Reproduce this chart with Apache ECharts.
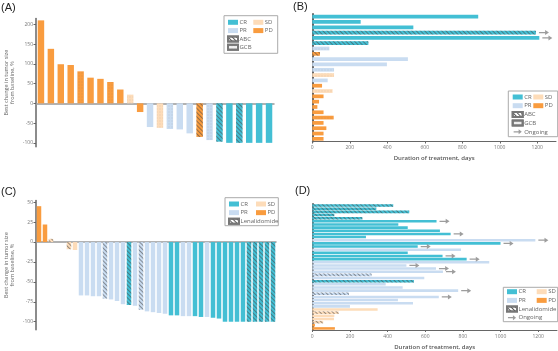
<!DOCTYPE html>
<html>
<head>
<meta charset="utf-8">
<script src="https://cdn.jsdelivr.net/npm/echarts@6.0.0/dist/echarts.min.js"></script>
<style>
html, body { margin: 0; padding: 0; background: #fff; }
#chart { width: 558px; height: 351px; }
</style>
</head>
<body>
<div id="chart"></div>
<script>
// (A) best change in tumor size, left to right
var aValues = [210, 138, 99, 97, 81, 65, 62, 54, 35, 22, -22, -60, -62, -65, -66, -76, -85, -93, -97, -100, -100, -100, -100, -100];
var aResponse = ['PD','PD','PD','PD','PD','PD','PD','PD','PD','SD','PD','PR','SD','PR','PR','PR','PD','PR','CR','CR','CR','CR','CR','CR'];
var aSubtype = ['','','','','GCB','','','GCB','','GCB','','','GCB','GCB','','','ABC','GCB','ABC','','ABC','','',''];

// (B) duration of treatment, top to bottom
var bDays = [885, 258, 539, 1193, 1211, 299, 91, 41, 510, 398, 116, 116, 82, 52, 108, 60, 36, 27, 60, 114, 60, 75, 60, 60];
var bResponse = ['CR','CR','CR','CR','CR','CR','PR','PD','PR','PR','PR','SD','PR','PD','SD','PD','PD','PD','PD','PD','PD','PD','PD','PD'];
var bSubtype = ['','','','ABC','','ABC','GCB','ABC','','','GCB','GCB','','','GCB','','','','','GCB','','','',''];
var bOngoing = [0,0,0,1,1,0,0,0,0,0,0,0,0,0,0,0,0,0,0,0,0,0,0,0];

// (C) best change in tumor size, left to right
var cValues = [45, 22, 4, 0, 0, -9, -10, -67, -67, -68, -68, -71, -72, -74, -78, -79, -80, -85, -87, -88,
               -89, -90, -92, -92, -93, -93, -93, -94, -94, -95, -96, -100, -100, -100, -100, -100, -100, -100, -100, -100];
var cResponse = ['PD','PD','SD','SD','SD','SD','SD','PR','PR','PR','PR','PR','PR','PR','PR','CR','PR','PR','PR','PR',
                 'PR','PR','CR','CR','PR','PR','CR','CR','PR','CR','CR','CR','CR','CR','CR','CR','CR','CR','CR','CR'];
var cLenalidomide = [0,0,1,0,0,1,0,0,0,0,0,1,0,0,0,1,0,1,0,0,
                     0,0,0,0,0,0,0,0,0,0,0,0,0,0,0,1,1,1,1,1];

// (D) duration of treatment, top to bottom
var dDays = [430, 340, 515, 117, 266, 660, 457, 507, 678, 735, 285, 1185, 1000, 560, 790, 507, 692, 820, 940, 500,
             657, 694, 315, 595, 540, 390, 480, 775, 195, 672, 455, 535, 200, 347, 140, 117, 115, 58, 14, 120];
var dResponse = ['CR','CR','CR','CR','CR','CR','CR','CR','CR','CR','CR','PR','CR','CR','PR','CR','CR','CR','PR','PR',
                 'PR','PR','PR','PR','CR','PR','PR','PR','PR','PR','PR','PR','PR','SD','SD','SD','SD','SD','PD','PD'];
var dLenalidomide = [1,1,1,1,1,0,0,0,0,0,0,0,0,0,0,0,0,0,0,0,
                     0,0,1,0,1,0,0,0,1,0,0,0,0,0,1,0,0,1,0,0];
var dOngoing = [0,0,0,0,0,1,0,0,0,1,0,1,1,1,0,0,1,1,0,1,
                1,1,0,0,0,0,0,1,0,1,0,0,0,0,0,0,0,0,0,0];

var yTicksA = [-100, -50, 0, 50, 100, 150, 200];
var yTicksC = [-100, -75, -50, -25, 0, 25, 50];
var dayTicks = [0, 200, 400, 600, 800, 1000, 1200];

var colors = { CR: '#43bfd4', PR: '#c9dcf1', SD: '#fddcb9', PD: '#f99c3f' };
var hatch = { symbol: 'rect', symbolSize: 1, dashArrayX: [1, 0], dashArrayY: [1, 2], rotation: Math.PI / 4, color: 'rgba(70,70,70,0.55)' };
var keyHatch = { symbol: 'rect', symbolSize: 1, dashArrayX: [1, 0], dashArrayY: [1, 2], rotation: Math.PI / 4, color: 'rgba(60,60,60,0.85)' };
var dots = { symbol: 'circle', symbolSize: 0.7, dashArrayX: [2, 1], dashArrayY: [2, 1], color: 'rgba(90,90,90,0.13)' };
var decals = { ABC: hatch, GCB: dots, L: hatch };
var arrow = 'path://M0,4L8,4L8,1L13,5L8,9L8,6L0,6Z';
var font = 'Open Sans';

function responseBars(idx, values, response, marks, barWidth) {
  return ['CR', 'PR', 'SD', 'PD'].map(function (r) {
    return {
      type: 'bar', name: r, xAxisIndex: idx, yAxisIndex: idx, stack: 's' + idx, barWidth: barWidth,
      itemStyle: { color: colors[r] },
      data: values.map(function (v, i) {
        if (response[i] !== r) return '-';
        var d = { value: v };
        var m = marks[i] === 1 ? 'L' : marks[i];
        if (m && decals[m]) d.itemStyle = { decal: decals[m] };
        return d;
      })
    };
  });
}

function keyBar(idx, name, fill, decal, barWidth) {
  return {
    type: 'bar', name: name, xAxisIndex: idx, yAxisIndex: idx, stack: 's' + idx, barWidth: barWidth, data: [],
    itemStyle: { color: fill, borderColor: '#777', borderWidth: 0.6, decal: decal }
  };
}

function ongoing(idx, days, flags) {
  var pts = [];
  days.forEach(function (v, i) { if (flags[i]) pts.push([v, i]); });
  return {
    type: 'scatter', name: 'Ongoing', xAxisIndex: idx, yAxisIndex: idx, data: pts,
    symbol: arrow, symbolSize: [10, 5], symbolOffset: [8, 0], itemStyle: { color: '#858585' }, z: 3
  };
}

function ids(arr) { return arr.map(function (v, i) { return 'P' + (i + 1); }); }
function plain(v) { return String(v); }

var tickLabel = { fontSize: 5, color: '#777', fontFamily: font, formatter: plain };
var legendText = { fontSize: 6, color: '#666', fontFamily: font, lineHeight: 7, padding: [0, 0, 0, -3.5] };

function legend(left, top, gap, names) {
  return {
    left: left, top: top, orient: 'vertical', padding: 0, itemGap: gap, itemWidth: 10, itemHeight: 5,
    textStyle: legendText, selectedMode: false,
    data: names.map(function (n) { return { name: n, icon: n === 'Ongoing' ? arrow : 'rect' }; })
  };
}

function changeAxis(idx, min, max, ticks) {
  return {
    gridIndex: idx, type: 'value', min: min, max: max,
    axisLine: { show: true, lineStyle: { color: '#666', width: 1.5 } },
    axisTick: { show: true, length: 2.5, customValues: ticks, lineStyle: { color: '#666' } },
    axisLabel: Object.assign({ customValues: ticks, margin: 3 }, tickLabel),
    splitLine: { show: false },
    name: 'Best change in tumor size\nfrom baseline, %', nameLocation: 'middle', nameGap: 20,
    nameTextStyle: { fontSize: 5.5, color: '#666', fontFamily: font, lineHeight: 6.5 }
  };
}

function dayAxis(idx) {
  return {
    gridIndex: idx, type: 'value', min: 0, max: 1300,
    axisLine: { show: true, lineStyle: { color: '#666', width: 1 } },
    axisTick: { show: true, length: 2, customValues: dayTicks, lineStyle: { color: '#666' } },
    axisLabel: Object.assign({ customValues: dayTicks, margin: 4 }, tickLabel),
    splitLine: { show: false },
    name: 'Duration of treatment, days', nameLocation: 'middle', nameGap: 14,
    nameTextStyle: { fontSize: 6, color: '#555', fontFamily: font, fontWeight: 600 }
  };
}

function zeroCategory(idx, arr) {
  return {
    gridIndex: idx, type: 'category', data: ids(arr),
    axisLine: { onZero: true, lineStyle: { color: '#999', width: 1.5 } },
    axisTick: { show: false }, axisLabel: { show: false }
  };
}

function rowCategory(idx, arr) {
  return {
    gridIndex: idx, type: 'category', data: ids(arr), inverse: true,
    axisLine: { lineStyle: { color: '#666', width: 2 } },
    axisTick: { show: false }, axisLabel: { show: false }
  };
}

var series = []
  .concat(responseBars(0, aValues, aResponse, aSubtype, '65%'))
  .concat([keyBar(0, 'ABC', '#ffffff', keyHatch, '65%'), keyBar(0, 'GCB', '#f0f0f0', dots, '65%')])
  .concat(responseBars(1, bDays, bResponse, bSubtype, '70%'))
  .concat([ongoing(1, bDays, bOngoing)])
  .concat(responseBars(2, cValues, cResponse, cLenalidomide, '75%'))
  .concat([keyBar(2, 'Lenalidomide', '#ffffff', keyHatch, '75%')])
  .concat(responseBars(3, dDays, dResponse, dLenalidomide, '80%'))
  .concat([ongoing(3, dDays, dOngoing)]);

function box(x, y, w, h) {
  return { type: 'rect', shape: { x: x, y: y, width: w, height: h }, style: { fill: '#fff', stroke: '#aaa', lineWidth: 1 }, z: 0, silent: true };
}
function letter(text, x, y) {
  return { type: 'text', x: x, y: y, style: { text: text, fontSize: 11, fontFamily: 'Liberation Sans', fill: '#222' }, silent: true };
}

var chart = echarts.init(document.getElementById('chart'), null, { renderer: 'canvas' });
chart.setOption({
  animation: false,
  grid: [
    { left: 36, top: 18.4, right: 284, bottom: 204.2, outerBoundsMode: 'none' },
    { left: 312.3, top: 14, right: 2, bottom: 209.5, outerBoundsMode: 'none' },
    { left: 36, top: 200.6, right: 282, bottom: 21.3, outerBoundsMode: 'none' },
    { left: 312.3, top: 204, right: 1, bottom: 21, outerBoundsMode: 'none' }
  ],
  xAxis: [zeroCategory(0, aValues), dayAxis(1), zeroCategory(2, cValues), dayAxis(3)],
  yAxis: [changeAxis(0, -110, 215, yTicksA), rowCategory(1, bDays), changeAxis(2, -110, 52, yTicksC), rowCategory(3, dDays)],
  legend: [
    legend(227, 18.8, 1.3, ['CR', 'PR', 'ABC', 'GCB']),
    legend(253.3, 18.8, 1.3, ['SD', 'PD']),
    legend(511.7, 93.5, 1.7, ['CR', 'PR', 'ABC', 'GCB', 'Ongoing']),
    legend(533.3, 93.5, 1.7, ['SD', 'PD']),
    legend(228, 200.5, 1.65, ['CR', 'PR', 'Lenalidomide']),
    legend(256, 200.5, 1.65, ['SD', 'PD']),
    legend(506, 288.2, 1.67, ['CR', 'PR', 'Lenalidomide', 'Ongoing']),
    legend(536.7, 288.2, 1.67, ['SD', 'PD'])
  ],
  graphic: [
    box(224, 15.7, 53.7, 37.6),
    box(508.3, 91, 49.4, 45.7),
    box(225, 197.7, 53.3, 28),
    box(503.3, 287.3, 54.4, 34.4),
    letter('(A)', 1, 2),
    letter('(B)', 293, 1.5),
    letter('(C)', 1, 186.5),
    letter('(D)', 295, 185.5)
  ],
  series: series
});
</script>
</body>
</html>
